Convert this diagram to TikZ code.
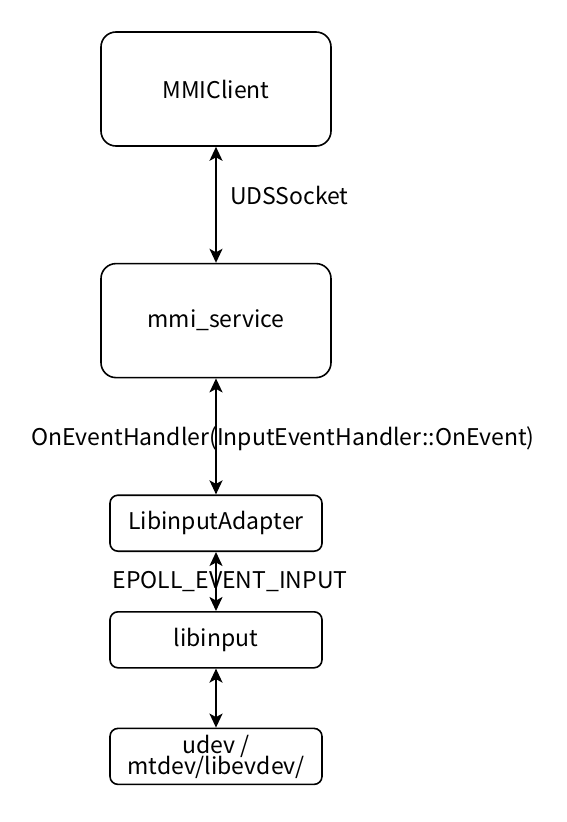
\documentclass[tikz,border=0pt]{standalone}
\usepackage{fontspec}
\setmainfont{Noto Sans CJK SC}
\usepackage{tikz}
\usetikzlibrary{arrows.meta,positioning}
\tikzset{
  bigbox/.style={draw=black, fill=white, line width=1.6pt,
        rounded corners=15pt, minimum width=230pt, minimum height=114pt,
        align=center, font=\fontsize{23}{25}\selectfont},
  smallbox/.style={draw=black, fill=white, line width=1.6pt,
        rounded corners=8pt, minimum width=212pt, minimum height=56pt,
        align=center, font=\fontsize{23}{25}\selectfont, inner sep=1pt},
  flow/.style={{Stealth[length=14pt,width=13pt,inset=3.5pt]}-{Stealth[length=14pt,width=13pt,inset=3.5pt]},
        line width=2pt, draw=black},
  flab/.style={font=\fontsize{23}{25}\selectfont, inner sep=0pt}
}
\begin{document}
\begin{tikzpicture}[x=1pt, y=1pt]
\useasboundingbox (0,0) rectangle (567,-822);
\node[bigbox] (client) at (216,-89) {MMIClient};
\node[bigbox, below=116pt of client] (service) {mmi\_service};
\node[smallbox, below=116pt of service] (adapter) {LibinputAdapter};
\node[smallbox, below=59pt of adapter] (libinput) {libinput};
\node[smallbox, below=59pt of libinput] (udev) {udev /\\[-4pt]mtdev/libevdev/};

\draw[flow] (client) -- node[flab, pos=0.42, right=13pt] {UDSSocket} (service);
\draw[flow] (service) -- node[flab, pos=0.52, xshift=67pt] {OnEventHandler(InputEventHandler::OnEvent)} (adapter);
\draw[flow] (adapter) -- node[flab, midway, xshift=14pt] {EPOLL\_EVENT\_INPUT} (libinput);
\draw[flow] (libinput) -- (udev);
\end{tikzpicture}
\end{document}
